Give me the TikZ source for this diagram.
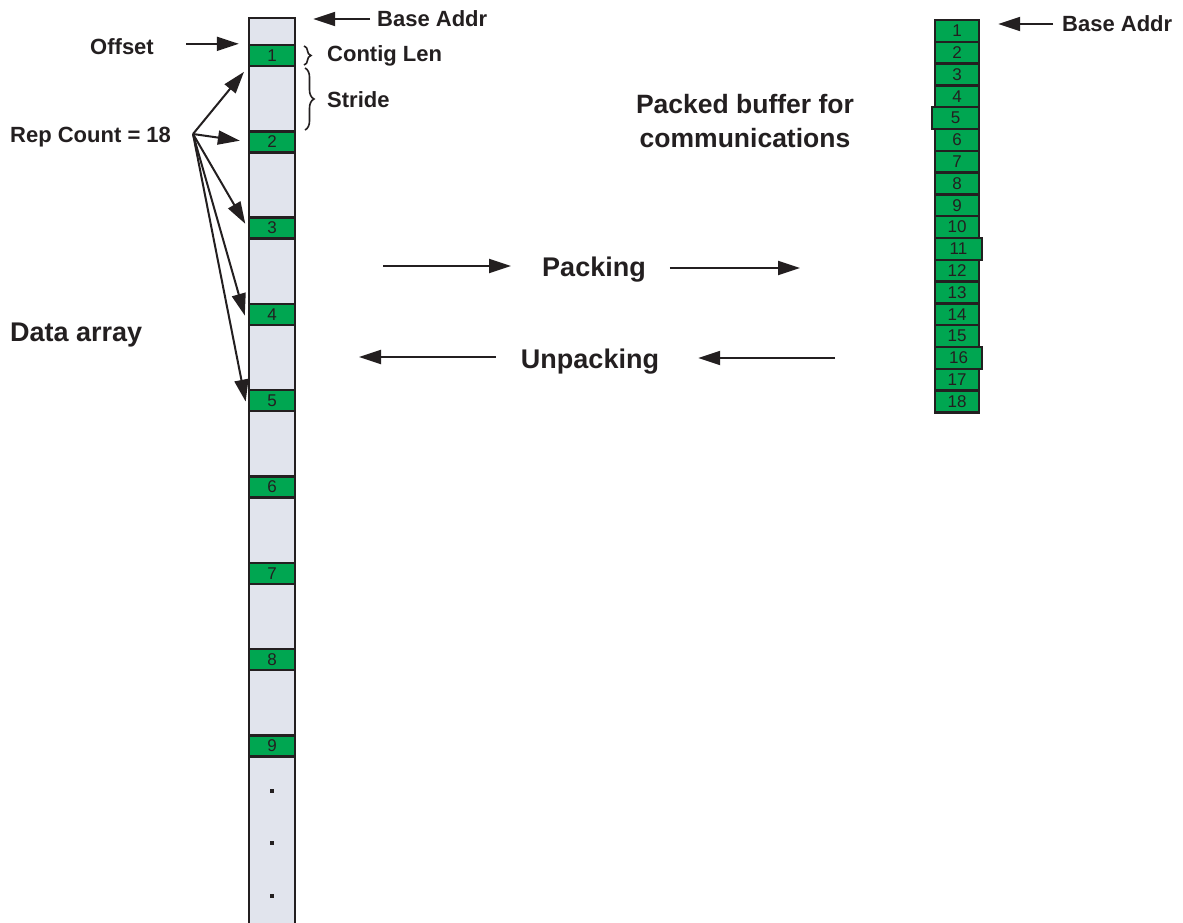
\documentclass[tikz,border=0pt]{standalone}
\usepackage{fontspec}
\setmainfont{Liberation Sans}
\usetikzlibrary{arrows.meta, positioning, decorations.pathreplacing}
\definecolor{Ink}      {HTML}{231F20}
\definecolor{CellGreen}{HTML}{00A651}
\definecolor{ArrayFill}{HTML}{E1E4ED}

\tikzset{
  lbl/.style    ={font=\fontsize{22}{26}\selectfont\bfseries, text=Ink, inner sep=0pt},
  biglbl/.style ={font=\fontsize{27}{34}\selectfont\bfseries, text=Ink, inner sep=0pt},
  arr/.style    ={-{Triangle[length=22pt, width=14pt]}, draw=Ink, line width=2pt},
  cell/.style   ={draw=Ink, fill=CellGreen, line width=2.4pt, inner sep=0pt,
                  minimum width=46pt, minimum height=21pt, text=Ink,
                  font=\fontsize{17}{17}\selectfont},
  pcell/.style  ={cell, minimum width=44pt, minimum height=21.8pt},
  sqdot/.style  ={fill=Ink, inner sep=0pt, minimum size=4.5pt},
  brc/.style    ={decorate, draw=Ink, line width=1.6pt}
}

\begin{document}
\begin{tikzpicture}[x=1pt, y=-1pt]
  \useasboundingbox (0,0) rectangle (1183,922);
  \clip (0,0) rectangle (1183,922);

  % data array column, runs off the bottom
  \node[draw=Ink, fill=ArrayFill, line width=2.4pt, minimum width=46pt,
        minimum height=930pt, inner sep=0pt, anchor=north] (col) at (272,17) {};
  \foreach \i in {1,...,9}
    \node[cell] (c\i) at (272, {55.5+86.3*(\i-1)}) {\i};
  \foreach \y in {791,843,896}
    \node[sqdot] at (272,\y) {};

  % labels round the array
  \node[lbl, anchor=west] (baseL) at (377,19) {Base Addr};
  \draw[arr, shorten <=7pt, shorten >=17pt] (baseL.west) -- (baseL.west -| col.east);

  \node[lbl, anchor=east] (offset) at (154,47) {Offset};
  \draw[arr, shorten <=32pt, shorten >=9pt] (offset.east |- c1.north) -- (c1.north west);

  \draw[brc, decoration={brace, amplitude=7pt}] (304,46) -- (304,65);
  \node[lbl, anchor=west] (contig) at (327,56) {Contig Len};
  \draw[brc, decoration={brace, amplitude=9pt}] (305,68) -- (305,130);
  \node[lbl, anchor=west] (stride) at (327,100) {Stride};

  \node[lbl, anchor=west] (rep) at (10,137) {Rep Count = 18};
  \coordinate (fan) at (193,134);
  \foreach \t/\s in {c1.south west/6, c2.west/8, c3.west/5, c4.south west/11, c5.south west/11}
    \draw[arr, shorten >=\s pt] (fan) -- (\t);

  \node[biglbl, anchor=west] (data) at (10,335) {Data array};

  % packing / unpacking
  \node[biglbl] (pack) at (594,270) {Packing};
  \coordinate (packL) at (383,266);
  \coordinate (packR) at (800,268);
  \draw[arr, shorten >=31pt] (packL) -- (packL -| pack.west);
  \draw[arr, shorten <=24pt] (pack.east |- packR) -- (packR);

  \node[biglbl] (unpack) at (590,362) {Unpacking};
  \coordinate (unpL) at (359,357);
  \coordinate (unpR) at (835,358);
  \draw[arr, shorten <=25pt] (unpack.west |- unpL) -- (unpL);
  \draw[arr, shorten >=39pt] (unpR) -- (unpR -| unpack.east);

  % packed buffer
  \node[biglbl, align=center, font=\fontsize{26.5}{34}\selectfont\bfseries]
    (pbuf) at (745,121) {Packed buffer for\\communications};
  \foreach \i in {1,...,18}
    \node[pcell] (p\i) at (957, {20+21.8*(\i-0.5)}) {\i};
  \node[pcell, minimum width=47pt, xshift=-1.5pt] at (p5) {5};
  \node[pcell, minimum width=47pt, xshift=1.5pt] at (p11) {11};
  \node[pcell, minimum width=47pt, xshift=1.5pt] at (p16) {16};

  \node[lbl, anchor=west] (baseR) at (1062,24) {Base Addr};
  \draw[arr, shorten <=9pt, shorten >=18pt] (baseR.west) -- (baseR.west -| p1.east);
\end{tikzpicture}
\end{document}
